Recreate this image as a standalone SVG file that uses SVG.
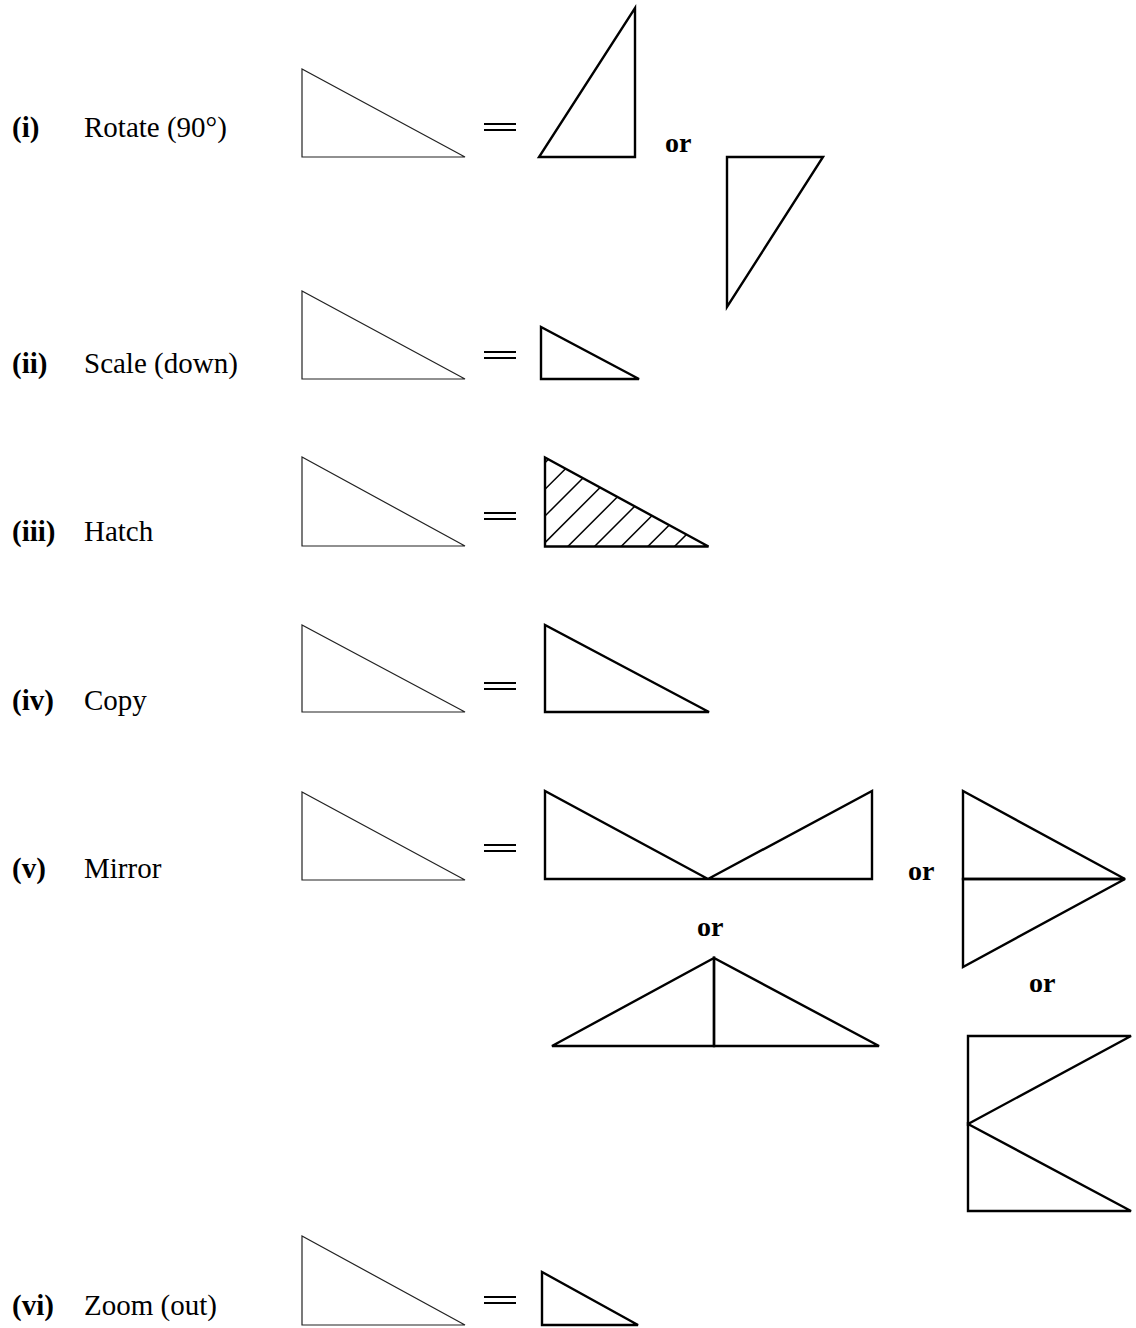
<svg xmlns="http://www.w3.org/2000/svg" width="1136" height="1328" viewBox="0 0 1136 1328">
<style>
.bg{fill:#ffffff}
.orig{fill:none;stroke:#222;stroke-width:1.2;stroke-linejoin:miter}
.res{fill:none;stroke:#000;stroke-width:2.4;stroke-linejoin:miter}
.eq{stroke:#000;stroke-width:2}
.hatch{stroke:#000;stroke-width:1.5}
.num{font-family:"Liberation Serif","Times New Roman",serif;font-weight:bold;font-size:29px;fill:#000}
.lbl{font-family:"Liberation Serif","Times New Roman",serif;font-size:29px;fill:#000}
.or{font-family:"Liberation Serif","Times New Roman",serif;font-weight:bold;font-size:28px;fill:#000}
</style>
<defs>
<clipPath id="hclip"><polygon points="545,457.5 545,546.5 708.5,546.5"/></clipPath>
</defs>
<rect class="bg" x="0" y="0" width="1136" height="1328"/>

<g id="row-i">
<text class="num" x="12" y="137">(i)</text>
<text class="lbl" x="84" y="137">Rotate (90°)</text>
<polygon class="orig" points="302,69 302,157 465,157"/>
<line class="eq" x1="484" y1="124" x2="516" y2="124"/>
<line class="eq" x1="484" y1="130" x2="516" y2="130"/>
<polygon class="res" points="539,157 635,157 635,8"/>
<text class="or" x="665" y="152">or</text>
<polygon class="res" points="727,157 823,157 727,307"/>
</g>

<g id="row-ii">
<text class="num" x="12" y="373">(ii)</text>
<text class="lbl" x="84" y="373">Scale (down)</text>
<polygon class="orig" points="302,291 302,379 465,379"/>
<line class="eq" x1="484" y1="352" x2="516" y2="352"/>
<line class="eq" x1="484" y1="358" x2="516" y2="358"/>
<polygon class="res" points="541,327 541,379 639,379"/>
</g>

<g id="row-iii">
<text class="num" x="12" y="541">(iii)</text>
<text class="lbl" x="84" y="541">Hatch</text>
<polygon class="orig" points="302,457 302,546 465,546"/>
<line class="eq" x1="484" y1="513" x2="516" y2="513"/>
<line class="eq" x1="484" y1="519" x2="516" y2="519"/>
<g clip-path="url(#hclip)">
<line class="hatch" x1="447.7" y1="560" x2="567.7" y2="440"/>
<line class="hatch" x1="474.3" y1="560" x2="594.3" y2="440"/>
<line class="hatch" x1="501" y1="560" x2="621" y2="440"/>
<line class="hatch" x1="527.6" y1="560" x2="647.6" y2="440"/>
<line class="hatch" x1="554.3" y1="560" x2="674.3" y2="440"/>
<line class="hatch" x1="581" y1="560" x2="701" y2="440"/>
<line class="hatch" x1="607.6" y1="560" x2="727.6" y2="440"/>
<line class="hatch" x1="634.3" y1="560" x2="754.3" y2="440"/>
<line class="hatch" x1="661" y1="560" x2="781" y2="440"/>
</g>
<polygon class="res" points="545,457.5 545,546.5 708.5,546.5"/>
</g>

<g id="row-iv">
<text class="num" x="12" y="710">(iv)</text>
<text class="lbl" x="84" y="710">Copy</text>
<polygon class="orig" points="302,625 302,712 465,712"/>
<line class="eq" x1="484" y1="683" x2="516" y2="683"/>
<line class="eq" x1="484" y1="689" x2="516" y2="689"/>
<polygon class="res" points="545,625 545,712 709,712"/>
</g>

<g id="row-v">
<text class="num" x="12" y="878">(v)</text>
<text class="lbl" x="84" y="878">Mirror</text>
<polygon class="orig" points="302,792 302,880 465,880"/>
<line class="eq" x1="484" y1="845" x2="516" y2="845"/>
<line class="eq" x1="484" y1="851" x2="516" y2="851"/>
<g id="mirror-a">
<polygon class="res" points="545,791 545,879 708,879"/>
<polygon class="res" points="708,879 872,879 872,791"/>
</g>
<text class="or" x="908" y="880">or</text>
<g id="mirror-c">
<polygon class="res" points="963,791 963,879 1125,879"/>
<polygon class="res" points="963,879 1125,879 963,967"/>
</g>
<text class="or" x="697" y="936">or</text>
<g id="mirror-b">
<polygon class="res" points="552,1046 714,958 714,1046"/>
<polygon class="res" points="714,958 714,1046 879,1046"/>
</g>
<text class="or" x="1029" y="992">or</text>
<g id="mirror-d">
<polygon class="res" points="968,1036 1131,1036 968,1124"/>
<polygon class="res" points="968,1124 968,1211 1131,1211"/>
</g>
</g>

<g id="row-vi">
<text class="num" x="12" y="1315">(vi)</text>
<text class="lbl" x="84" y="1315">Zoom (out)</text>
<polygon class="orig" points="302,1236 302,1325 465,1325"/>
<line class="eq" x1="484" y1="1297" x2="516" y2="1297"/>
<line class="eq" x1="484" y1="1303" x2="516" y2="1303"/>
<polygon class="res" points="542,1272 542,1325 638,1325"/>
</g>
<g id="connectors"></g>
</svg>
